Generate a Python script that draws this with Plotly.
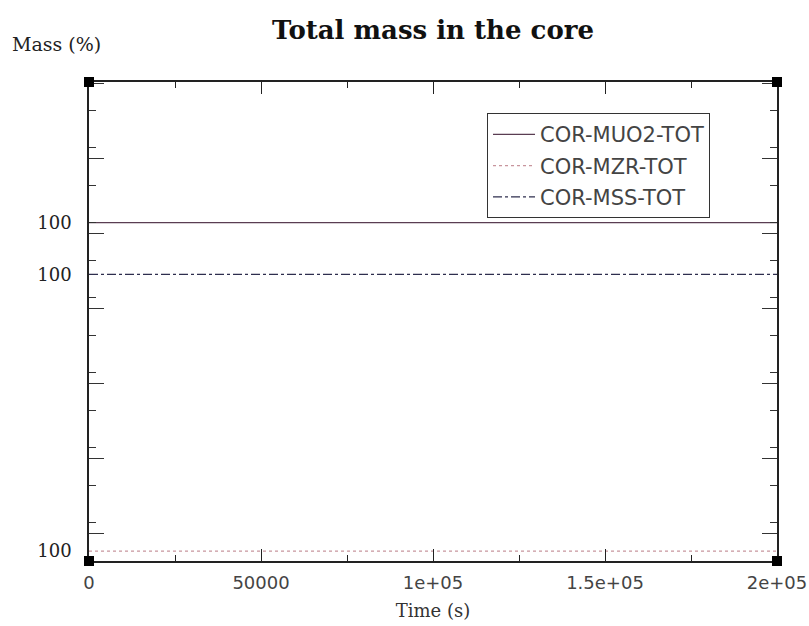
import plotly.graph_objects as go

# ---- data ----
time_s = [0, 200000]
cor_muo2_tot = [100.0, 100.0]
cor_mzr_tot = [99.9999562, 99.9999562]
cor_mss_tot = [99.9999931, 99.9999931]
series_names = ["COR-MUO2-TOT", "COR-MZR-TOT", "COR-MSS-TOT"]
x_tick_vals = [0, 50000, 100000, 150000, 200000]
x_tick_text = ["0", "50000", "1e+05", "1.5e+05", "2e+05"]
y_label_vals = [cor_muo2_tot[0], cor_mss_tot[0], cor_mzr_tot[0]]
y_label_text = ["100", "100", "100"]

y_range = [99.99995487, 100.00001874]
y_tick0 = 99.9999986
y_dtick = 1e-5

sans = "DejaVu Sans"
serif = "DejaVu Serif"

fig = go.Figure()
fig.add_trace(go.Scatter(x=time_s, y=cor_muo2_tot, mode="lines", name=series_names[0],
                         legendgroup="a",
                         line=dict(color="#5a3d52", width=1.2, dash="solid")))
fig.add_trace(go.Scatter(x=time_s, y=cor_mzr_tot, mode="lines", name=series_names[1],
                         legendgroup="b",
                         line=dict(color="#c8959d", width=1.2, dash="dot")))
fig.add_trace(go.Scatter(x=time_s, y=cor_mss_tot, mode="lines", name=series_names[2],
                         legendgroup="c",
                         line=dict(color="#2e2e4e", width=1.2, dash="dashdot")))
# invisible trace to anchor the tick-only axis
fig.add_trace(go.Scatter(x=time_s, y=cor_muo2_tot, yaxis="y2", mode="lines",
                         line=dict(width=0), showlegend=False, hoverinfo="skip", opacity=0))

fig.update_layout(
    width=809, height=626,
    paper_bgcolor="white", plot_bgcolor="white",
    margin=dict(l=89, r=32, t=82, b=65, autoexpand=False),
    title=dict(text="<b>Total mass in the core</b>", x=0.5, xref="paper", xanchor="center",
               y=0.952, yanchor="middle",
               font=dict(family=serif, size=26, color="#111")),
    xaxis=dict(range=[0, 200000], tickvals=x_tick_vals, ticktext=x_tick_text, automargin=False,
               showgrid=False, zeroline=False, showline=True, linecolor="#222", linewidth=1.5,
               mirror="ticks", ticks="inside", ticklen=12, tickwidth=1.2, tickcolor="#222",
               ticklabelstandoff=5,
               minor=dict(tickvals=[25000, 75000, 125000, 175000], ticks="inside", ticklen=6,
                          tickwidth=1.2, tickcolor="#222"),
               tickfont=dict(family=sans, size=18, color="#444"),
               title=dict(text="Time (s)", font=dict(family=serif, size=18, color="#333"), standoff=12)),
    yaxis=dict(range=y_range, tickvals=y_label_vals, ticktext=y_label_text, ticks="",
               automargin=False, ticklabelstandoff=12,
               showgrid=False, zeroline=False, showline=True, linecolor="#222", linewidth=1.5,
               mirror=True, tickfont=dict(family=serif, size=18, color="#222")),
    yaxis2=dict(range=y_range, overlaying="y", side="left", showticklabels=False, automargin=False,
                showgrid=False, zeroline=False, showline=False,
                tick0=y_tick0, dtick=y_dtick, ticks="inside", ticklen=15, tickwidth=1.2,
                tickcolor="#333", mirror="ticks",
                minor=dict(ticks="inside", ticklen=7, tickwidth=1.2, tickcolor="#333", dtick=y_dtick / 2)),
    legend=dict(x=0.5785, y=0.935, xanchor="left", yanchor="top",
                bgcolor="white", bordercolor="#333", borderwidth=1, tracegroupgap=1,
                font=dict(family=sans, size=21, color="#444"), itemwidth=42),
    showlegend=True,
)

fig.add_annotation(text="Mass (%)", xref="paper", yref="paper", x=-0.115, y=1.079,
                   xanchor="left", yanchor="middle", showarrow=False,
                   font=dict(family=serif, size=19, color="#222"))

# corner markers
for cx in (0, 1):
    for cy in (0, 1):
        fig.add_shape(type="rect", xref="x domain", yref="y domain",
                      xsizemode="pixel", ysizemode="pixel", xanchor=cx, yanchor=cy,
                      x0=-5, x1=5, y0=-5, y1=5, fillcolor="black", line=dict(width=0))

fig.write_html("out.html", config={"displayModeBar": False},
               post_script="document.body.style.margin='0';document.body.style.overflow='hidden';")
